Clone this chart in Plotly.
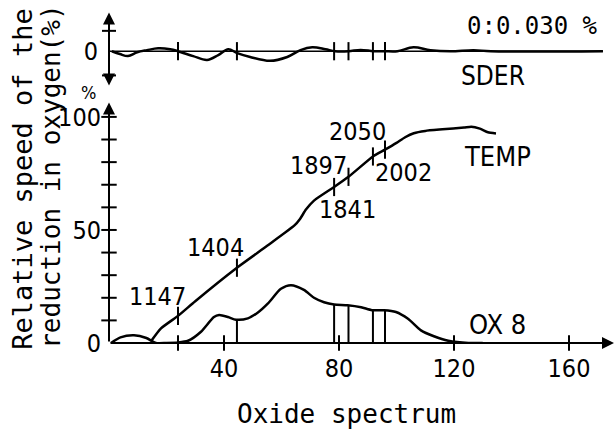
import plotly.graph_objects as go

# ---------------- data ----------------
temp_x = [14.6, 18, 24, 30, 44.5, 55, 64.5, 66.5, 68.5, 71.3, 78.3, 83.3, 91.8, 96, 100, 103, 106, 110, 116, 123.5, 126, 129, 131.8, 134.6]
temp_y = [0.8, 6.4, 12, 18.5, 33.3, 43, 52, 55, 59, 63, 69, 73.5, 82.5, 85.5, 88.5, 91, 92.8, 93.8, 94.5, 95.3, 95.7, 94.8, 93.2, 92.7]

ox8_x = [0.7, 4, 8.7, 13, 16.3, 20, 24, 27.5, 32, 36.5, 38.3, 41.4, 44.2, 48.3, 51.8, 55.3, 59.8, 63.3, 67.8, 71.3, 74.8,
         78.3, 83, 87.7, 91.5, 95.7, 99.8, 104, 108.5, 113, 118, 125, 130]
ox8_y = [0, 2.5, 3.4, 2.2, 0, 0, 0.2, 1.0, 5, 11.5, 12.4, 11.5, 10.3, 10.9, 13.5, 17.5, 24, 25.6, 23.5, 20, 18,
         17, 16.7, 15.8, 14.5, 14.5, 13.7, 10.7, 5.6, 3, 1, 0, 0]

sder_x = [1.0, 3.8, 6.6, 9.8, 13.2, 17.1, 21.3, 24, 29.3, 34.1, 38, 41.5, 44.6, 49.1, 56, 62, 66.6, 70.7, 75.3,
          78.7, 83.3, 87.5, 92, 95.8, 100.3, 105.9, 111.8, 118.8, 126.8, 132.8, 171.8]
sder_y = [0, -0.0022, -0.0038, -0.0008, 0.0008, 0.0022, 0.0015, 0, -0.0038, -0.0068, -0.003, 0.0015, -0.0015,
          -0.0045, -0.0075, -0.0045, 0.0008, 0.003, 0.0015, 0, 0, 0.001, 0, 0, 0, 0.003, 0.0008, 0, 0.0008, 0, 0]

# temperature marks
mark_x = [24, 44.5, 78.3, 83.3, 91.8, 96]
mark_temp_y = [12, 33.3, 69, 73.5, 82.5, 85.5]
mark_labels = ["1147", "1404", "1841", "1897", "2002", "2050"]
label_x = [17, 37.2, 82.8, 72.7, 102.3, 86.6]
label_y = [20.5, 42.3, 59, 78.6, 75.2, 93.6]

# OX 8 vertical lines (x, top)
vline_x = [44.5, 78.3, 83.3, 91.8, 96]
vline_top = [10.3, 17, 16.7, 14.5, 14.5]

x_ticks = [40, 80, 120, 160]
x_extra_tick = [24]
y_ticks_main = [0, 50, 100]
y_minor = [10, 20, 30, 40, 50, 60, 70, 80, 90, 100]

# ---------------- geometry ----------------
W, H = 616, 444
X0PX, X1PX = 109, 614
XMAX = (X1PX - X0PX) / 2.875
YMAX = (355 - 106) / 2.34

NUM = "Liberation Sans Narrow, DejaVu Sans Condensed, DejaVu Sans Mono"
MONO = "DejaVu Sans Mono"
BLACK = "#000000"
LW = 2.5

fig = go.Figure()

# TEMP
fig.add_trace(go.Scatter(x=temp_x, y=temp_y, mode="lines", line=dict(color=BLACK, width=LW, shape="spline", smoothing=0.5),
                         xaxis="x", yaxis="y", hoverinfo="skip"))
# OX 8
fig.add_trace(go.Scatter(x=ox8_x, y=ox8_y, mode="lines", line=dict(color=BLACK, width=LW, shape="spline", smoothing=0.7),
                         xaxis="x", yaxis="y", hoverinfo="skip"))
# vertical lines under OX 8
vx, vy = [], []
for xv, top in zip(vline_x, vline_top):
    vx += [xv, xv, None]
    vy += [0, top, None]
fig.add_trace(go.Scatter(x=vx, y=vy, mode="lines", line=dict(color=BLACK, width=2), xaxis="x", yaxis="y", hoverinfo="skip"))
# marks on TEMP
fig.add_trace(go.Scatter(x=mark_x, y=mark_temp_y, mode="markers",
                         marker=dict(symbol="line-ns", size=13, line=dict(color=BLACK, width=2)),
                         xaxis="x", yaxis="y", hoverinfo="skip", cliponaxis=False))
# ticks across x axis
fig.add_trace(go.Scatter(x=x_ticks + x_extra_tick, y=[0] * (len(x_ticks) + 1), mode="markers",
                         marker=dict(symbol="line-ns", size=11, line=dict(color=BLACK, width=2)),
                         xaxis="x", yaxis="y", hoverinfo="skip", cliponaxis=False))
# ticks across y axis
fig.add_trace(go.Scatter(x=[0] * len(y_minor), y=y_minor, mode="markers",
                         marker=dict(symbol="line-ew", size=11, line=dict(color=BLACK, width=2)),
                         xaxis="x", yaxis="y", hoverinfo="skip", cliponaxis=False))

# SDER baseline + curve
fig.add_trace(go.Scatter(x=[0, sder_x[-1]], y=[0, 0], mode="lines", line=dict(color=BLACK, width=1.6),
                         xaxis="x2", yaxis="y2", hoverinfo="skip"))
fig.add_trace(go.Scatter(x=sder_x, y=sder_y, mode="lines", line=dict(color=BLACK, width=LW, shape="spline", smoothing=1.0),
                         xaxis="x2", yaxis="y2", hoverinfo="skip"))
fig.add_trace(go.Scatter(x=mark_x, y=[0] * len(mark_x), mode="markers",
                         marker=dict(symbol="line-ns", size=13, line=dict(color=BLACK, width=2)),
                         xaxis="x2", yaxis="y2", hoverinfo="skip", cliponaxis=False))
fig.add_trace(go.Scatter(x=[0, 0], y=[0.0158, -0.0188], mode="markers",
                         marker=dict(symbol="line-ew", size=10, line=dict(color=BLACK, width=2)),
                         xaxis="x2", yaxis="y2", hoverinfo="skip", cliponaxis=False))

ann = []
# axis arrows
ann.append(dict(x=XMAX, y=0, ax=0, ay=0, xref="x", yref="y", axref="x", ayref="y", text="", showarrow=True,
                arrowhead=2, arrowsize=1.2, arrowwidth=2, arrowcolor=BLACK, standoff=0))
ann.append(dict(x=0, y=YMAX, ax=0, ay=0, xref="x", yref="y", axref="x", ayref="y", text="", showarrow=True,
                arrowhead=2, arrowsize=1.2, arrowwidth=2, arrowcolor=BLACK, standoff=0))
ann.append(dict(x=0, y=0.03, ax=0, ay=-0.0278, xref="x2", yref="y2", axref="x2", ayref="y2", text="", showarrow=True,
                arrowhead=2, arrowsize=1.2, arrowwidth=2, arrowside="end+start", arrowcolor=BLACK, standoff=0,
                startarrowhead=2, startarrowsize=1.2, startstandoff=0))

# temperature labels
for lx, ly, t in zip(label_x, label_y, mark_labels):
    ann.append(dict(x=lx, y=ly, xref="x", yref="y", text=t, showarrow=False,
                    font=dict(family=NUM, size=25, color=BLACK), xanchor="center", yanchor="middle"))

ann.append(dict(x=135.3, y=82.5, xref="x", yref="y", text="TEMP", showarrow=False,
                font=dict(family=NUM, size=27, color=BLACK), xanchor="center", yanchor="middle"))
ann.append(dict(x=135.3, y=8.1, xref="x", yref="y", text="OX 8", showarrow=False,
                font=dict(family=NUM, size=27, color=BLACK), xanchor="center", yanchor="middle"))
ann.append(dict(x=133.5, y=-0.0195, xref="x2", yref="y2", text="SDER", showarrow=False,
                font=dict(family=NUM, size=26, color=BLACK), xanchor="center", yanchor="middle"))
ann.append(dict(x=170.8, y=0.0195, xref="x2", yref="y2", text="0:0.030 %", showarrow=False,
                font=dict(family=MONO, size=24, color=BLACK), xanchor="right", yanchor="middle"))
ann.append(dict(x=88 / W, y=1 - 96 / H, xref="paper", yref="paper", text="%", showarrow=False,
                font=dict(family=NUM, size=18, color=BLACK), xanchor="center", yanchor="middle"))

# titles
ann.append(dict(x=346 / W, y=1 - 428 / H, xref="paper", yref="paper", text="Oxide spectrum", showarrow=False,
                font=dict(family=MONO, size=26, color=BLACK), xanchor="center", yanchor="middle"))
ann.append(dict(x=23 / W, y=1 - 186 / H, xref="paper", yref="paper", text="Relative speed of the", showarrow=False,
                textangle=-90, font=dict(family=MONO, size=27, color=BLACK), xanchor="center", yanchor="middle"))
ann.append(dict(x=51 / W, y=1 - 183 / H, xref="paper", yref="paper", text="reduction in oxygen(%)", showarrow=False,
                textangle=-90, font=dict(family=MONO, size=26, color=BLACK), xanchor="center", yanchor="middle"))

fig.update_layout(
    width=W, height=H, margin=dict(l=0, r=0, t=0, b=0),
    paper_bgcolor="white", plot_bgcolor="white", showlegend=False,
    annotations=ann,
    xaxis=dict(domain=[X0PX / W, X1PX / W], range=[0, XMAX], showgrid=False, zeroline=False, showline=False,
               tickvals=x_ticks, ticktext=[str(v) for v in x_ticks], ticks="", ticklabelstandoff=8,
               tickfont=dict(family=NUM, size=25, color=BLACK), anchor="y", fixedrange=True),
    yaxis=dict(domain=[1 - 355 / H, 1 - 106 / H], range=[0, YMAX], showgrid=False, zeroline=False, showline=False,
               tickvals=y_ticks_main, ticktext=[str(v) for v in y_ticks_main], ticks="", ticklabelstandoff=7,
               tickfont=dict(family=NUM, size=25, color=BLACK), anchor="x", fixedrange=True),
    xaxis2=dict(domain=[X0PX / W, X1PX / W], range=[0, XMAX], matches="x", visible=False, anchor="y2"),
    yaxis2=dict(domain=[1 - 93 / H, 1 - 13 / H], range=[-0.03, 0.03], showgrid=False, zeroline=False, showline=False,
                tickvals=[0], ticktext=["0"], ticks="", ticklabelstandoff=10,
                tickfont=dict(family=NUM, size=25, color=BLACK), anchor="x2", fixedrange=True),
)

fig.write_html("out.html")
